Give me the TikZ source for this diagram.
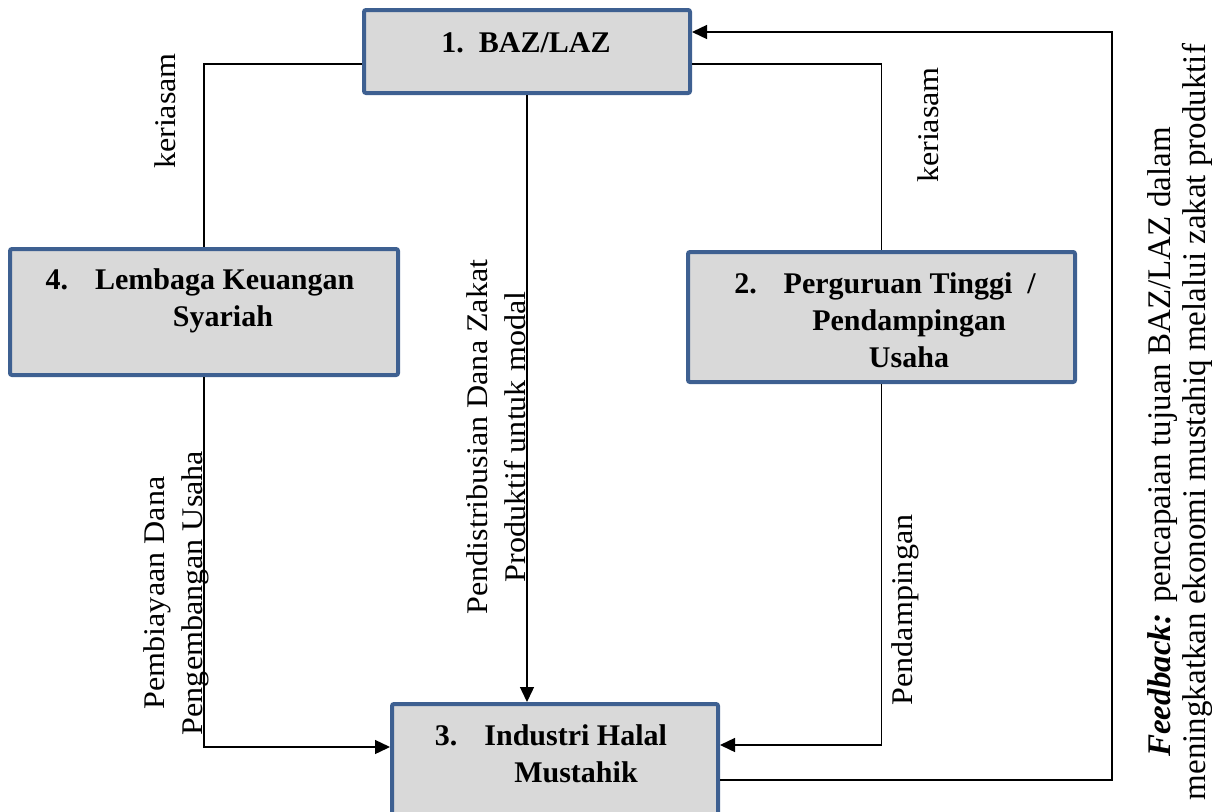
\documentclass[tikz,border=0pt]{standalone}
\usepackage{fontspec}
\setmainfont{Liberation Serif}
\newfontfamily\fbfont{Liberation Serif}
\newfontfamily\labfont[FakeStretch=1.07]{Liberation Serif}
\usetikzlibrary{arrows.meta,calc}
\definecolor{boxblue}{RGB}{62,96,145}
\definecolor{boxfill}{RGB}{217,217,217}
\begin{document}
\begin{tikzpicture}[x=1pt,y=-1pt,
 boxnode/.style={draw=boxblue,line width=4pt,fill=boxfill,rounded corners=2pt,inner sep=0pt},
 conn/.style={line width=1.4pt},
 arr/.style={conn,-{Triangle[length=15pt,width=14pt]}},
 boxtext/.style={font=\fontsize{30}{37}\selectfont\bfseries,align=center,inner sep=0pt},
 lab/.style={font=\labfont\fontsize{30}{38}\selectfont,align=center,rotate=90,inner sep=0pt},
 fbtext/.style={font=\fbfont\fontsize{33}{35}\selectfont,align=center,rotate=90,inner sep=0pt}]
\useasboundingbox (0,0) rectangle (1212,811);
% boxes
\node[boxnode,minimum width=326pt,minimum height=83pt] (b1) at (527,51.5) {};
\node[boxnode,minimum width=388pt,minimum height=126pt] (b4) at (204,312) {};
\node[boxnode,minimum width=387pt,minimum height=130pt] (b2) at (881.5,317) {};
\node[boxnode,minimum width=326pt,minimum height=116pt] (b3) at (555,762) {};
% box texts
\node[boxtext] (t1) at (526,43) {1.\ \ BAZ/LAZ};
\node[boxtext] (t4) at (200,301) {4.\hspace{0.9em}Lembaga Keuangan\\\hspace*{46pt}Syariah};
\node[boxtext] (t2) at (885,320) {2.\hspace{0.9em}Perguruan Tinggi\ \ /\\\hspace*{48pt}Pendampingan\\\hspace*{48pt}Usaha};
\node[boxtext] (t3) at (551,753.5) {3.\hspace{0.9em}Industri Halal\\\hspace*{50pt}Mustahik};
% connectors
\coordinate (c1) at (1112,32);
\draw[conn] ($(b1.west)+(0,12.5)$) -| (b4.north);
\draw[conn] ($(b1.east)+(0,12.5)$) -| (b2.north);
\draw[arr] (b1.south) -- (b1.south |- b3.north);
\draw[arr] (b4.south) |- ($(b3.west)+(0,-15)$);
\draw[arr] (b2.south) |- ($(b3.east)+(0,-17)$);
\draw[arr] ($(b3.east)+(0,18)$) -| (c1) -- ($(b1.east)+(0,-19.5)$);
% labels
\node[lab] (k1) at (165,111) {keriasam};
\node[lab] (k2) at (928,125) {keriasam};
\node[lab] (p4) at (176,593) {Pembiayaan Dana\\Pengembangan Usaha};
\node[lab] (pd) at (496,437) {Pendistribusian Dana Zakat\\Produktif untuk modal};
\node[lab] (pn) at (905,610) {Pendampingan};
\node[fbtext] (fb) at (1180,422) {\textbf{\textit{Feedback:}} pencapaian tujuan BAZ/LAZ dalam\hspace*{40pt}\\meningkatkan ekonomi mustahiq melalui zakat produktif};
\end{tikzpicture}
\end{document}
